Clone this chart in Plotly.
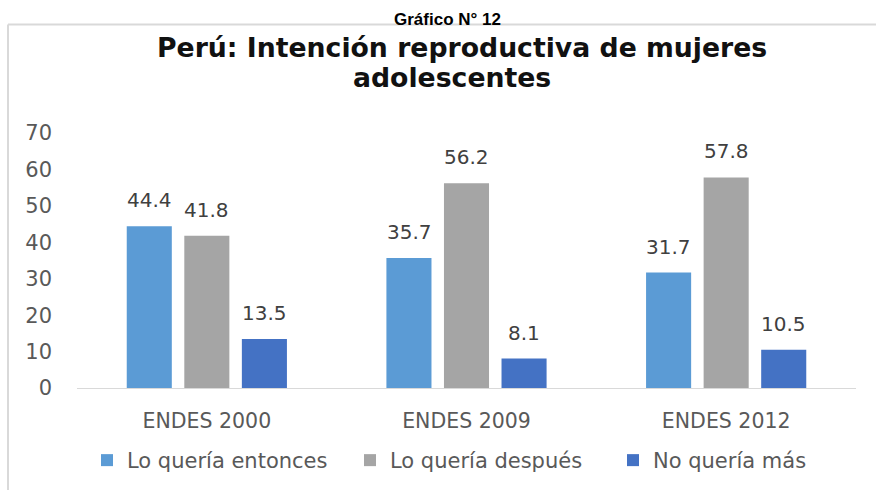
import plotly.graph_objects as go

categories = ["ENDES 2000", "ENDES 2009", "ENDES 2012"]
series_names = ["Lo quería entonces", "Lo quería después", "No quería más"]
lo_queria_entonces = [44.4, 35.7, 31.7]
lo_queria_despues = [41.8, 56.2, 57.8]
no_queria_mas = [13.5, 8.1, 10.5]
series_values = [lo_queria_entonces, lo_queria_despues, no_queria_mas]
colors = ["#5B9BD5", "#A5A5A5", "#4472C4"]
y_ticks = [0, 10, 20, 30, 40, 50, 60, 70]

W, H = 876, 502
fig = go.Figure()
for name, vals, col in zip(series_names, series_values, colors):
    fig.add_trace(go.Bar(x=categories, y=vals, name=name, marker_color=col,
                         marker_line_width=0))

# data labels above each bar
offsets = [-57.5, 0, 57.5]
annotations = []
for vals, dx in zip(series_values, offsets):
    for c, v in zip(categories, vals):
        annotations.append(dict(x=c, y=v, xref="x", yref="y", text=f"{v:.1f}",
                                showarrow=False, xshift=dx, yanchor="bottom", yshift=12,
                                font=dict(family="DejaVu Sans", size=20, color="#404040")))

annotations += [
    dict(text="<b>Gráfico N° 12</b>", x=447 / W, y=1 - 7.5 / H, xref="paper", yref="paper",
         xanchor="center", yanchor="middle", showarrow=False,
         font=dict(family="Liberation Sans", size=17, color="#000000")),
    dict(text="<b>Perú: Intención reproductiva de mujeres</b>", x=462 / W, y=1 - 37 / H,
         xref="paper", yref="paper", xanchor="center", yanchor="middle", showarrow=False,
         font=dict(family="DejaVu Sans", size=26.7, color="#111111")),
    dict(text="<b>adolescentes</b>", x=452 / W, y=1 - 69 / H,
         xref="paper", yref="paper", xanchor="center", yanchor="middle", showarrow=False,
         font=dict(family="DejaVu Sans", size=26.7, color="#111111")),
]

shapes = [
    dict(type="line", xref="paper", yref="paper", x0=8 / W, x1=1, y0=1 - 13 / H, y1=1 - 13 / H,
         line=dict(color="#D9D9D9", width=2)),
    dict(type="line", xref="paper", yref="paper", x0=8 / W, x1=8 / W, y0=0, y1=1 - 13 / H,
         line=dict(color="#D9D9D9", width=2)),
]

fig.update_layout(
    width=W, height=H,
    margin=dict(l=0, r=0, t=0, b=0),
    paper_bgcolor="white", plot_bgcolor="white",
    barmode="group", bargap=0.335, bargroupgap=0.217,
    xaxis=dict(domain=[77 / W, 856 / W], showgrid=False, showline=True,
               linecolor="#D9D9D9", linewidth=1, ticks="", ticklabelstandoff=14,
               tickfont=dict(family="DejaVu Sans", size=20.5, color="#595959")),
    yaxis=dict(domain=[(H - 395) / H, (H - 127) / H], range=[0, 70], tickvals=y_ticks,
               showgrid=False, zeroline=False, showline=False, ticks="",
               ticklabelstandoff=24,
               tickfont=dict(family="DejaVu Sans", size=21, color="#595959")),
    legend=dict(orientation="h", x=87 / W, xanchor="left", y=1 - 471 / H, yanchor="middle",
                font=dict(family="DejaVu Sans", size=21, color="#595959"),
                entrywidth=218, entrywidthmode="pixels", itemwidth=30),
    annotations=annotations,
    shapes=shapes,
    showlegend=True,
)

fig.write_html("out.html")
